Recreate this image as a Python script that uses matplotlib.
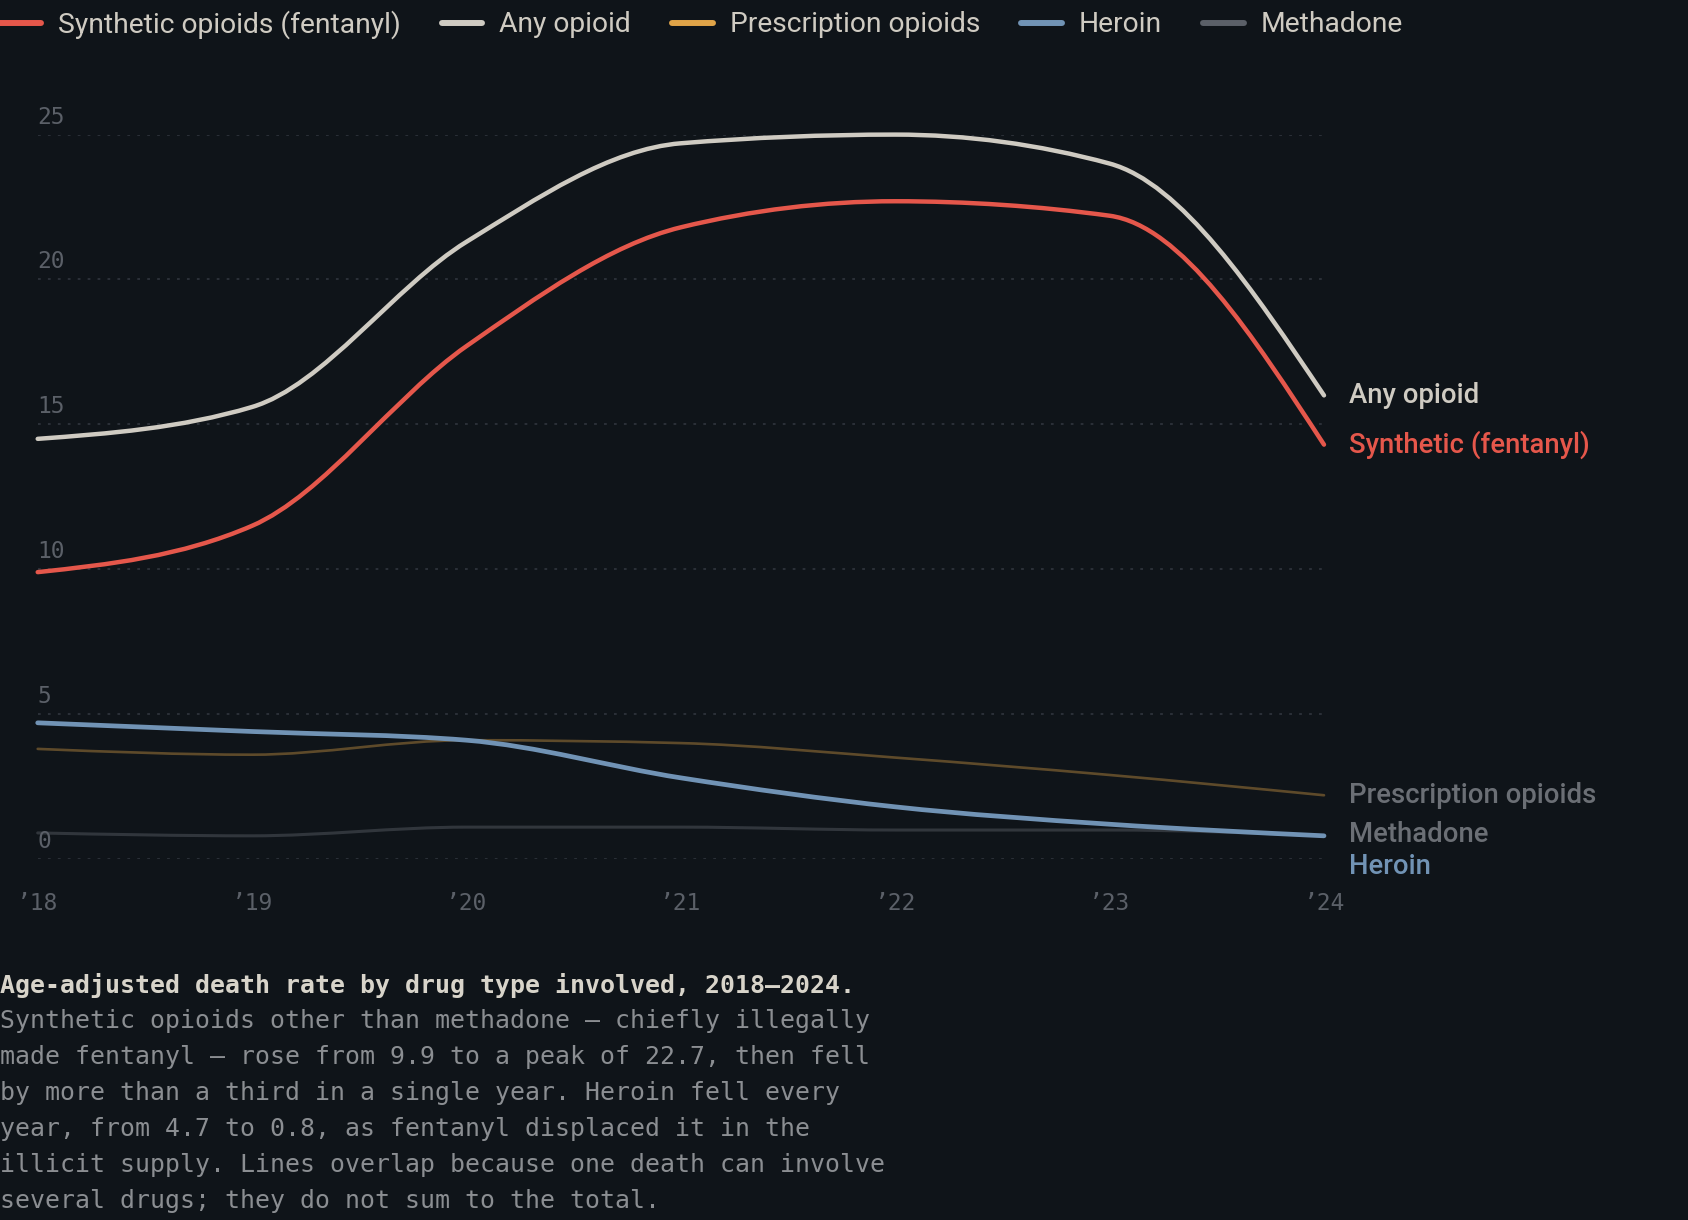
import numpy as np
import matplotlib
matplotlib.use("Agg")
import matplotlib.pyplot as plt
from matplotlib.path import Path
from matplotlib.patches import PathPatch
from matplotlib.lines import Line2D

years = [2018, 2019, 2020, 2021, 2022, 2023, 2024]
year_labels = ["\u201918", "\u201919", "\u201920", "\u201921", "\u201922", "\u201923", "\u201924"]
synthetic = [9.9, 11.5, 17.7, 21.8, 22.7, 22.2, 14.3]
any_opioid = [14.5, 15.6, 21.3, 24.7, 25.0, 24.0, 16.0]
prescription = [3.8, 3.6, 4.1, 4.0, 3.5, 2.9, 2.2]
heroin = [4.7, 4.4, 4.1, 2.8, 1.8, 1.2, 0.8]
methadone = [0.9, 0.8, 1.1, 1.1, 1.0, 1.0, 0.8]
yticks = [0, 5, 10, 15, 20, 25]

legend_names = ["Synthetic opioids (fentanyl)", "Any opioid", "Prescription opioids", "Heroin", "Methadone"]
end_labels = ["Synthetic (fentanyl)", "Any opioid", "Prescription opioids", "Heroin", "Methadone"]

caption_title = "Age-adjusted death rate by drug type involved, 2018\u20132024."
caption_lines = [
    "Synthetic opioids other than methadone \u2014 chiefly illegally",
    "made fentanyl \u2014 rose from 9.9 to a peak of 22.7, then fell",
    "by more than a third in a single year. Heroin fell every",
    "year, from 4.7 to 0.8, as fentanyl displaced it in the",
    "illicit supply. Lines overlap because one death can involve",
    "several drugs; they do not sum to the total.",
]

BG = "#0f1419"
MONO = "DejaVu Sans Mono"
SANS = "Roboto"


def monotone_path(x, y):
    # d3 curveMonotoneX as cubic bezier segments
    x = np.asarray(x, float)
    y = np.asarray(y, float)
    h = np.diff(x)
    s = np.diff(y) / h
    t = np.zeros(len(x))
    for i in range(1, len(x) - 1):
        p = (s[i - 1] * h[i] + s[i] * h[i - 1]) / (h[i - 1] + h[i])
        t[i] = (np.sign(s[i - 1]) + np.sign(s[i])) * min(abs(s[i - 1]), abs(s[i]), 0.5 * abs(p))
    t[0] = (3 * s[0] - t[1]) / 2
    t[-1] = (3 * s[-1] - t[-2]) / 2
    verts = [(x[0], y[0])]
    codes = [Path.MOVETO]
    for i in range(len(x) - 1):
        dx = h[i] / 3
        verts += [(x[i] + dx, y[i] + dx * t[i]), (x[i + 1] - dx, y[i + 1] - dx * t[i + 1]), (x[i + 1], y[i + 1])]
        codes += [Path.CURVE4] * 3
    return Path(verts, codes)


fig = plt.figure(figsize=(16.88, 12.2), dpi=100, facecolor=BG)
W, H = 1688, 1220
left, right, bottom, top = 37.7 / W, 1324 / W, 1 - 859 / H, 1 - 134.6 / H
ax = fig.add_axes([left, bottom, right - left, top - bottom], facecolor=BG)
ax.set_xlim(2018, 2024)
ax.set_ylim(0, 25)
for sp in ax.spines.values():
    sp.set_visible(False)

# grid
for v in yticks:
    ax.plot([2018, 2024], [v, v], color="#2e333b", lw=1.3, ls=(0, (1.5, 4)), zorder=1)
    ax.annotate(str(v), (2018, v), xytext=(0, 11), textcoords="offset pixels",
                ha="left", va="baseline", fontsize=16.5, family=MONO, color="#5b6068")

ax.set_yticks([])
ax.set_xticks(years)
ax.set_xticklabels(year_labels, family=MONO, fontsize=16.5, color="#5b6068")
ax.tick_params(axis="x", length=0, pad=24)

series = [
    # data, color, width, alpha, zorder
    (methadone, "#5b6068", 2.2, 0.45, 2),
    (prescription, "#e0a448", 1.9, 0.38, 3),
    (heroin, "#7193b5", 3.4, 1.0, 4),
    (synthetic, "#e5574b", 3.2, 1.0, 5),
    (any_opioid, "#cfcbc2", 3.2, 1.0, 6),
]
for data, col, lw, a, z in series:
    patch = PathPatch(monotone_path(years, data), fill=False, edgecolor=col, lw=lw, alpha=a,
                      capstyle="round", joinstyle="round", zorder=z, clip_on=False)
    ax.add_patch(patch)

# end labels
label_specs = [
    (synthetic, end_labels[0], "#e5574b", 0),
    (any_opioid, end_labels[1], "#cfcbc2", 0),
    (prescription, end_labels[2], "#6b6f75", 0),
    (methadone, end_labels[4], "#6b6f75", 1),
    (heroin, end_labels[3], "#7193b5", -31),
]
for data, text, col, dy in label_specs:
    ax.annotate(text, (years[-1], data[-1]), xytext=(25, dy), textcoords="offset pixels",
                ha="left", va="center", fontsize=19.8, family=SANS, weight="medium",
                color=col, annotation_clip=False)

# legend
handle_cols = ["#e5574b", "#cfcbc2", "#e0a448", "#7193b5", "#5b6068"]
handles = [Line2D([], [], color=c, lw=4.3, solid_capstyle="round") for c in handle_cols]
leg = fig.legend(handles, legend_names, loc="upper left", bbox_to_anchor=(0.0, 1 - 10 / H),
                 ncol=5, frameon=False, borderaxespad=0, borderpad=0,
                 handlelength=1.45, handletextpad=0.6, columnspacing=1.45,
                 prop={"family": SANS, "size": 20.3})
for t in leg.get_texts():
    t.set_color("#cfcbc2")

# caption
fig.text(0, 1 - 985 / H, caption_title, family=MONO, weight="bold", fontsize=17.95,
         color="#d8d4ca", ha="left", va="center")
for i, line in enumerate(caption_lines):
    fig.text(0, 1 - (1021 + 36 * i) / H, line, family=MONO, fontsize=17.95,
             color="#8b8e92", ha="left", va="center")

fig.savefig("out.png", dpi=100, facecolor=BG)
